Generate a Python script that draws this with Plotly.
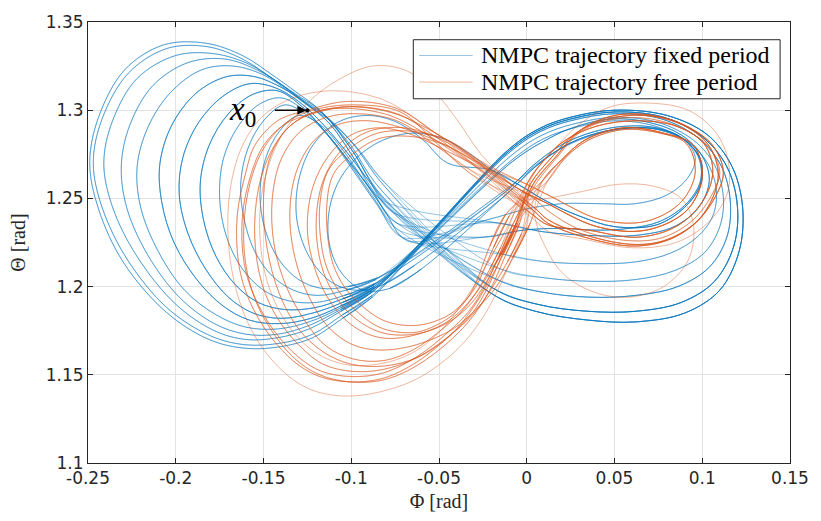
import plotly.graph_objects as go

# ---------------------------------------------------------------------------
# Trajectory lobes in the (Phi, Theta) plane, in rad.
# Blue = NMPC with fixed period, orange = NMPC with free period.
# Left lobes start on their lower right, run round the bottom, the left side
# and the top; right lobes start on their lower left, run round the bottom,
# the right side and the top.  The spline through consecutive lobes draws
# the crossing branches between them.
# ---------------------------------------------------------------------------

# --- fixed period: left lobes -------------------------------------------------
BL13_PHI = [-0.088, -0.105, -0.122, -0.140, -0.160, -0.181, -0.206, -0.230, -0.244, -0.249,
            -0.244, -0.229, -0.207, -0.183, -0.162, -0.145, -0.131, -0.119, -0.101, -0.084]
BL13_THETA = [1.194, 1.182, 1.171, 1.166, 1.165, 1.170, 1.186, 1.214, 1.244, 1.270,
              1.296, 1.323, 1.337, 1.338, 1.331, 1.320, 1.310, 1.301, 1.281, 1.256]
BL1_PHI = [-0.088, -0.105, -0.122, -0.140, -0.160, -0.180, -0.205, -0.228, -0.242, -0.247,
           -0.242, -0.227, -0.205, -0.182, -0.162, -0.145, -0.130, -0.118, -0.100, -0.083]
BL1_THETA = [1.195, 1.184, 1.173, 1.168, 1.167, 1.172, 1.188, 1.216, 1.245, 1.270,
             1.295, 1.321, 1.335, 1.336, 1.329, 1.318, 1.308, 1.300, 1.278, 1.252]
BL2_PHI = [-0.088, -0.106, -0.124, -0.142, -0.160, -0.178, -0.200, -0.222, -0.236, -0.241,
           -0.236, -0.222, -0.200, -0.178, -0.158, -0.142, -0.128, -0.116, -0.099, -0.082]
BL2_THETA = [1.197, 1.186, 1.176, 1.171, 1.170, 1.175, 1.190, 1.217, 1.245, 1.270,
             1.294, 1.318, 1.331, 1.332, 1.326, 1.316, 1.306, 1.298, 1.281, 1.258]
BL9_PHI = [-0.088, -0.106, -0.124, -0.142, -0.160, -0.178, -0.198, -0.216, -0.228, -0.231,
           -0.226, -0.213, -0.193, -0.172, -0.154, -0.139, -0.126, -0.114, -0.098, -0.082]
BL9_THETA = [1.197, 1.187, 1.178, 1.173, 1.173, 1.179, 1.194, 1.218, 1.245, 1.269,
             1.292, 1.314, 1.327, 1.329, 1.323, 1.314, 1.304, 1.296, 1.275, 1.250]
BL3_PHI = [-0.088, -0.106, -0.124, -0.142, -0.160, -0.177, -0.195, -0.210, -0.220, -0.222,
           -0.216, -0.203, -0.185, -0.167, -0.150, -0.136, -0.124, -0.112, -0.097, -0.081]
BL3_THETA = [1.198, 1.188, 1.180, 1.176, 1.177, 1.184, 1.198, 1.220, 1.245, 1.268,
             1.290, 1.310, 1.323, 1.325, 1.320, 1.311, 1.302, 1.294, 1.279, 1.259]
BL10_PHI = [-0.087, -0.106, -0.123, -0.141, -0.158, -0.173, -0.188, -0.201, -0.208,
            -0.209, -0.202, -0.188, -0.171, -0.155, -0.140, -0.126, -0.112, -0.098, -0.084]
BL10_THETA = [1.199, 1.189, 1.182, 1.179, 1.181, 1.189, 1.204, 1.225, 1.248,
              1.270, 1.292, 1.310, 1.319, 1.319, 1.313, 1.304, 1.292, 1.272, 1.250]
BL4_PHI = [-0.087, -0.105, -0.122, -0.140, -0.156, -0.170, -0.183, -0.193, -0.198,
           -0.196, -0.187, -0.173, -0.158, -0.144, -0.130, -0.117, -0.104, -0.090, -0.076]
BL4_THETA = [1.200, 1.191, 1.185, 1.182, 1.185, 1.194, 1.210, 1.230, 1.252,
             1.273, 1.293, 1.308, 1.315, 1.313, 1.305, 1.293, 1.278, 1.260, 1.242]
BL11_PHI = [-0.087, -0.105, -0.121, -0.138, -0.153, -0.166, -0.177, -0.184, -0.186,
            -0.181, -0.170, -0.156, -0.142, -0.128, -0.115, -0.102, -0.088, -0.074]
BL11_THETA = [1.201, 1.193, 1.188, 1.187, 1.191, 1.201, 1.217, 1.237, 1.259,
              1.280, 1.298, 1.309, 1.311, 1.302, 1.288, 1.272, 1.254, 1.236]
BL5_PHI = [-0.086, -0.104, -0.120, -0.136, -0.150, -0.162, -0.171, -0.175,
           -0.173, -0.165, -0.153, -0.140, -0.127, -0.114, -0.101, -0.087, -0.073]
BL5_THETA = [1.202, 1.195, 1.191, 1.192, 1.198, 1.210, 1.228, 1.250,
             1.272, 1.290, 1.303, 1.307, 1.300, 1.287, 1.270, 1.250, 1.232]
BL12_PHI = [-0.086, -0.103, -0.119, -0.133, -0.145, -0.155, -0.161, -0.163,
            -0.159, -0.150, -0.138, -0.125, -0.112, -0.099, -0.085, -0.071]
BL12_THETA = [1.204, 1.198, 1.195, 1.198, 1.206, 1.220, 1.238, 1.258,
              1.278, 1.294, 1.303, 1.297, 1.284, 1.266, 1.246, 1.228]
BL6_PHI = [-0.085, -0.102, -0.117, -0.130, -0.141, -0.149, -0.152,
           -0.149, -0.141, -0.130, -0.118, -0.106, -0.094, -0.081, -0.068]
BL6_THETA = [1.205, 1.200, 1.199, 1.204, 1.215, 1.232, 1.252,
             1.272, 1.288, 1.297, 1.292, 1.279, 1.262, 1.243, 1.226]
BL8_PHI = [-0.064, -0.082, -0.098, -0.112, -0.124, -0.131, -0.130, -0.122, -0.108, -0.092, -0.076, -0.060, -0.045]
BL8_THETA = [1.212, 1.201, 1.198, 1.203, 1.217, 1.238, 1.260, 1.280, 1.293, 1.297, 1.294, 1.284, 1.270]
BL7_PHI = [-0.060, -0.078, -0.093, -0.105, -0.112, -0.113, -0.108, -0.097, -0.082, -0.065, -0.048, -0.032]
BL7_THETA = [1.210, 1.199, 1.198, 1.207, 1.222, 1.240, 1.258, 1.273, 1.283, 1.287, 1.284, 1.275]

# --- fixed period: right lobes ------------------------------------------------
BR1_PHI = [-0.020, 0.005, 0.035, 0.062, 0.090, 0.110, 0.121, 0.123, 0.117, 0.103, 0.080, 0.050, 0.025, 0.008, -0.010]
BR1_THETA = [1.196, 1.186, 1.181, 1.180, 1.185, 1.198, 1.220, 1.245, 1.268, 1.286, 1.297, 1.300, 1.296, 1.290, 1.278]
BR2_PHI = [-0.019, 0.006, 0.035, 0.062, 0.088, 0.107, 0.118, 0.120, 0.114, 0.100, 0.078, 0.050, 0.025, 0.008, -0.010]
BR2_THETA = [1.199, 1.190, 1.186, 1.186, 1.191, 1.203, 1.223, 1.246, 1.268, 1.285, 1.296, 1.299, 1.295, 1.289, 1.277]
BR3_PHI = [-0.017, 0.008, 0.036, 0.062, 0.086, 0.104, 0.114, 0.116, 0.111, 0.098, 0.077, 0.050, 0.025, 0.008, -0.010]
BR3_THETA = [1.204, 1.197, 1.194, 1.195, 1.200, 1.211, 1.228, 1.248, 1.268, 1.284, 1.295, 1.298, 1.294, 1.288, 1.276]
BR4_PHI = [-0.015, 0.010, 0.037, 0.062, 0.084, 0.101, 0.110, 0.112, 0.107, 0.095, 0.075, 0.050, 0.026, 0.009, -0.008]
BR4_THETA = [1.210, 1.205, 1.203, 1.204, 1.209, 1.219, 1.234, 1.251, 1.269, 1.283, 1.293, 1.296, 1.292, 1.286, 1.275]
BR5_PHI = [-0.012, 0.012, 0.038, 0.062, 0.082, 0.097, 0.106, 0.108, 0.103, 0.092, 0.073, 0.050, 0.027, 0.010, -0.007]
BR5_THETA = [1.218, 1.214, 1.213, 1.214, 1.219, 1.228, 1.240, 1.255, 1.270, 1.282, 1.291, 1.294, 1.290, 1.284, 1.273]
BR9_PHI = [-0.016, 0.010, 0.036, 0.062, 0.084, 0.098, 0.104, 0.100, 0.088, 0.070, 0.048, 0.026, 0.009, -0.008]
BR9_THETA = [1.236, 1.231, 1.229, 1.229, 1.234, 1.245, 1.260, 1.274, 1.286, 1.293, 1.295, 1.290, 1.282, 1.271]
BR6_PHI = [-0.020, -0.005, 0.012, 0.030, 0.050, 0.074, 0.090, 0.099,
           0.099, 0.090, 0.075, 0.059, 0.040, 0.022, 0.005, -0.012]
BR6_THETA = [1.266, 1.258, 1.248, 1.240, 1.234, 1.235, 1.245, 1.258,
             1.272, 1.283, 1.289, 1.290, 1.287, 1.280, 1.268, 1.252]
BR6W_PHI = [-0.025, -0.002, 0.020, 0.040, 0.058, 0.076, 0.091, 0.099,
            0.098, 0.089, 0.074, 0.057, 0.039, 0.021, 0.004, -0.013]
BR6W_THETA = [1.228, 1.232, 1.233, 1.232, 1.233, 1.237, 1.247, 1.260,
              1.273, 1.284, 1.290, 1.291, 1.288, 1.281, 1.269, 1.253]
BR7_PHI = [-0.022, 0.000, 0.020, 0.042, 0.062, 0.080, 0.092, 0.096,
           0.090, 0.077, 0.060, 0.042, 0.025, 0.008, -0.008]
BR7_THETA = [1.238, 1.244, 1.247, 1.247, 1.247, 1.252, 1.262, 1.273,
             1.283, 1.289, 1.290, 1.287, 1.281, 1.271, 1.258]

# --- free period: left lobes --------------------------------------------------
OL1_PHI = [-0.006, -0.014, -0.022, -0.031, -0.044, -0.063, -0.082, -0.101, -0.118, -0.132, -0.147,
           -0.158, -0.164, -0.165, -0.160, -0.155, -0.142, -0.125, -0.102, -0.074, -0.052, -0.035]
OL1_THETA = [1.236, 1.218, 1.200, 1.185, 1.172, 1.157, 1.148, 1.146, 1.149, 1.157, 1.173,
             1.192, 1.212, 1.240, 1.265, 1.280, 1.294, 1.300, 1.305, 1.301, 1.287, 1.276]
OL1B_PHI = [-0.008, -0.016, -0.024, -0.033, -0.045, -0.063, -0.082, -0.100, -0.117, -0.130, -0.144,
            -0.155, -0.161, -0.162, -0.157, -0.150, -0.138, -0.122, -0.101, -0.074, -0.052, -0.034]
OL1B_THETA = [1.235, 1.217, 1.200, 1.186, 1.174, 1.160, 1.151, 1.149, 1.152, 1.160, 1.175,
              1.194, 1.213, 1.240, 1.264, 1.280, 1.292, 1.298, 1.302, 1.298, 1.285, 1.272]
OL9_PHI = [-0.004, -0.012, -0.020, -0.030, -0.043, -0.063, -0.082, -0.101, -0.118, -0.132, -0.146,
           -0.156, -0.161, -0.160, -0.154, -0.146, -0.134, -0.118, -0.097, -0.072, -0.050, -0.032]
OL9_THETA = [1.236, 1.218, 1.200, 1.184, 1.170, 1.155, 1.147, 1.146, 1.150, 1.159, 1.176,
             1.196, 1.220, 1.247, 1.270, 1.284, 1.295, 1.301, 1.303, 1.299, 1.280, 1.264]
OL11_PHI = [-0.005, -0.013, -0.022, -0.032, -0.044, -0.062, -0.081, -0.100, -0.116, -0.130,
            -0.141, -0.148, -0.150, -0.146, -0.136, -0.121, -0.102, -0.078, -0.055, -0.035]
OL11_THETA = [1.236, 1.219, 1.202, 1.186, 1.172, 1.160, 1.155, 1.156, 1.163, 1.176,
              1.196, 1.222, 1.250, 1.274, 1.290, 1.299, 1.301, 1.297, 1.285, 1.272]
OL2_PHI = [-0.010, -0.019, -0.029, -0.037, -0.046, -0.063, -0.082, -0.100, -0.108,
           -0.112, -0.114, -0.110, -0.098, -0.084, -0.065, -0.046, -0.027]
OL2_THETA = [1.240, 1.222, 1.200, 1.190, 1.183, 1.178, 1.181, 1.195, 1.207,
             1.219, 1.245, 1.264, 1.276, 1.284, 1.285, 1.280, 1.269]
OL2B_PHI = [-0.012, -0.021, -0.031, -0.039, -0.048, -0.064, -0.084, -0.102, -0.111,
            -0.116, -0.118, -0.113, -0.100, -0.085, -0.065, -0.045, -0.026]
OL2B_THETA = [1.241, 1.223, 1.198, 1.187, 1.180, 1.174, 1.177, 1.191, 1.204,
              1.218, 1.245, 1.266, 1.279, 1.287, 1.288, 1.283, 1.271]
OL10_PHI = [-0.006, -0.015, -0.024, -0.034, -0.046, -0.064, -0.083, -0.099, -0.110,
            -0.117, -0.120, -0.116, -0.105, -0.090, -0.070, -0.050, -0.030]
OL10_THETA = [1.236, 1.218, 1.201, 1.188, 1.179, 1.173, 1.174, 1.183, 1.196,
              1.212, 1.236, 1.260, 1.278, 1.288, 1.290, 1.284, 1.272]
OL3_PHI = [-0.003, -0.011, -0.020, -0.030, -0.043, -0.062, -0.082, -0.100, -0.116, -0.129, -0.142,
           -0.151, -0.155, -0.153, -0.146, -0.135, -0.120, -0.100, -0.075, -0.052, -0.033]
OL3_THETA = [1.230, 1.214, 1.199, 1.185, 1.173, 1.160, 1.153, 1.152, 1.156, 1.166, 1.182,
             1.202, 1.228, 1.255, 1.276, 1.291, 1.299, 1.302, 1.298, 1.287, 1.275]
OL4_PHI = [-0.015, -0.021, -0.028, -0.037, -0.048, -0.065, -0.082, -0.099, -0.114, -0.126,
           -0.137, -0.144, -0.145, -0.140, -0.129, -0.114, -0.096, -0.074, -0.052, -0.032]
OL4_THETA = [1.222, 1.210, 1.198, 1.186, 1.176, 1.164, 1.158, 1.159, 1.166, 1.180,
             1.200, 1.224, 1.250, 1.272, 1.288, 1.296, 1.298, 1.294, 1.280, 1.266]
OL5_PHI = [0.002, -0.008, -0.018, -0.029, -0.042, -0.063, -0.083, -0.099, -0.113, -0.124,
           -0.132, -0.135, -0.131, -0.121, -0.107, -0.090, -0.071, -0.050, -0.031]
OL5_THETA = [1.236, 1.216, 1.199, 1.187, 1.176, 1.167, 1.164, 1.167, 1.177, 1.194,
             1.216, 1.242, 1.266, 1.283, 1.292, 1.294, 1.290, 1.282, 1.272]
OL6_PHI = [-0.008, -0.018, -0.027, -0.036, -0.047, -0.066, -0.083, -0.098, -0.111,
           -0.120, -0.125, -0.122, -0.113, -0.100, -0.085, -0.068, -0.048, -0.029]
OL6_THETA = [1.230, 1.213, 1.199, 1.188, 1.179, 1.172, 1.171, 1.177, 1.190,
             1.208, 1.232, 1.256, 1.274, 1.286, 1.290, 1.287, 1.278, 1.268]
OL7_PHI = [0.000, -0.008, -0.016, -0.026, -0.040, -0.062, -0.085, -0.105, -0.124, -0.140, -0.155,
           -0.165, -0.170, -0.169, -0.162, -0.150, -0.133, -0.110, -0.082, -0.056, -0.036]
OL7_THETA = [1.234, 1.217, 1.199, 1.181, 1.164, 1.148, 1.140, 1.138, 1.142, 1.153, 1.172,
             1.196, 1.225, 1.255, 1.280, 1.297, 1.307, 1.311, 1.306, 1.290, 1.274]
OL8_PHI = [-0.013, -0.022, -0.031, -0.040, -0.049, -0.066, -0.085, -0.104, -0.121, -0.136, -0.147,
           -0.152, -0.150, -0.140, -0.124, -0.106, -0.088, -0.070, -0.054, -0.040, -0.026]
OL8_THETA = [1.230, 1.214, 1.199, 1.186, 1.175, 1.162, 1.156, 1.156, 1.163, 1.178, 1.200,
             1.228, 1.258, 1.285, 1.305, 1.318, 1.325, 1.323, 1.312, 1.295, 1.275]

# --- free period: right lobes -------------------------------------------------
OR1_PHI = [0.004, 0.012, 0.031, 0.059, 0.078, 0.096, 0.108, 0.112, 0.106, 0.091, 0.072, 0.050, 0.031, 0.016, 0.003]
OR1_THETA = [1.245, 1.238, 1.230, 1.224, 1.226, 1.236, 1.252, 1.265, 1.280, 1.291, 1.297, 1.297, 1.289, 1.273, 1.257]
OR1B_PHI = [0.004, 0.012, 0.031, 0.059, 0.078, 0.095, 0.106, 0.110, 0.104, 0.090, 0.071, 0.050, 0.031, 0.017, 0.005]
OR1B_THETA = [1.250, 1.243, 1.232, 1.226, 1.228, 1.238, 1.253, 1.265, 1.279, 1.289, 1.295, 1.295, 1.288, 1.273, 1.258]
OR7_PHI = [0.004, 0.012, 0.033, 0.061, 0.082, 0.098, 0.107, 0.109, 0.103, 0.088, 0.067, 0.046, 0.028, 0.014, 0.002]
OR7_THETA = [1.243, 1.236, 1.228, 1.223, 1.227, 1.238, 1.253, 1.266, 1.281, 1.292, 1.297, 1.295, 1.287, 1.273, 1.258]
OR2_PHI = [-0.004, 0.010, 0.040, 0.068, 0.091, 0.100, 0.095, 0.078, 0.055, 0.033, 0.020, 0.009]
OR2_THETA = [1.255, 1.248, 1.234, 1.232, 1.243, 1.262, 1.280, 1.287, 1.290, 1.283, 1.272, 1.260]
OR3_PHI = [0.003, 0.012, 0.035, 0.063, 0.085, 0.100, 0.106, 0.101, 0.085, 0.062, 0.040, 0.022, 0.011, 0.000]
OR3_THETA = [1.241, 1.235, 1.232, 1.228, 1.234, 1.248, 1.265, 1.281, 1.291, 1.294, 1.291, 1.283, 1.273, 1.258]
OR4_PHI = [0.004, 0.013, 0.032, 0.060, 0.085, 0.103, 0.114, 0.115, 0.108, 0.092, 0.070, 0.048, 0.030, 0.015, 0.002]
OR4_THETA = [1.238, 1.231, 1.227, 1.222, 1.225, 1.236, 1.252, 1.270, 1.287, 1.300, 1.304, 1.302, 1.292, 1.277, 1.260]
OR5_PHI = [0.002, 0.008, 0.020, 0.038, 0.058, 0.078, 0.092, 0.095, 0.088, 0.072, 0.052, 0.032, 0.012, -0.002]
OR5_THETA = [1.245, 1.228, 1.208, 1.197, 1.194, 1.200, 1.215, 1.235, 1.250, 1.257, 1.258, 1.254, 1.250, 1.248]
OR6_PHI = [0.000, 0.014, 0.042, 0.068, 0.088, 0.096, 0.091, 0.076, 0.055, 0.035, 0.022, 0.012]
OR6_THETA = [1.258, 1.251, 1.238, 1.237, 1.248, 1.265, 1.281, 1.287, 1.289, 1.283, 1.273, 1.260]

# Successive periods: (left lobe, right lobe) pairs
BLUE_LOOPS = [("BL9", "BR3"), ("BL3", "BR2"), ("BL3", "BR4"), ("BL10", "BR3"), ("BL4", "BR5"),
              ("BL11", "BR4"), ("BL5", "BR3"), ("BL12", "BR5"), ("BL6", "BR6W"), ("BL5", "BR6W"),
              ("BL6", "BR7"), ("BL12", "BR7"), ("BL8", "BR6"), ("BL7", "BR6"), ("BL7", "BR6"),
              ("BL8", "BR6"), ("BL10", "BR1"), ("BL9", "BR1"), ("BL11", "BR6W"), ("BL4", "BR2"),
              ("BL4", "BR9"), ("BL11", "BR9"), ("BL10", "BR9"),
              ("BL1", "BR1"), ("BL2", "BR2"), ("BL1", "BR2"), ("BL2", "BR1"),
              ("BL13", "BR1"), ("BL13", "BR2")]
ORANGE_LOOPS = [("OL7", "OR4"), ("OL8", "OR5"), ("OL3", "OR1"), ("OL3", "OR2"), ("OL4", "OR3"),
                ("OL4", "OR1B"), ("OL5", "OR2"), ("OL5", "OR6"), ("OL6", "OR3"), ("OL6", "OR7"),
                ("OL9", "OR1"), ("OL9", "OR3"), ("OL11", "OR7"), ("OL11", "OR6"), ("OL10", "OR2"),
                ("OL10", "OR7"),
                ("OL2", "OR2"), ("OL2B", "OR6"), ("OL2", "OR3"), ("OL2B", "OR2"),
                ("OL1", "OR1"), ("OL1B", "OR1B"), ("OL1", "OR7"), ("OL1B", "OR1")]

# Initial state x0
X0_PHI = -0.125
X0_THETA = 1.300

X_TICKS = [-0.25, -0.2, -0.15, -0.1, -0.05, 0, 0.05, 0.1, 0.15]
X_TICK_TEXT = ["-0.25", "-0.2", "-0.15", "-0.1", "-0.05", "0", "0.05", "0.1", "0.15"]
Y_TICKS = [1.1, 1.15, 1.2, 1.25, 1.3, 1.35]
Y_TICK_TEXT = ["1.1", "1.15", "1.2", "1.25", "1.3", "1.35"]

SERIES_NAMES = ["NMPC trajectory fixed period", "NMPC trajectory free period"]

# ---------------------------------------------------------------------------
LOBES = {
    "BL1": (BL1_PHI, BL1_THETA), "BL2": (BL2_PHI, BL2_THETA), "BL3": (BL3_PHI, BL3_THETA),
    "BL4": (BL4_PHI, BL4_THETA), "BL5": (BL5_PHI, BL5_THETA), "BL6": (BL6_PHI, BL6_THETA),
    "BL7": (BL7_PHI, BL7_THETA), "BL8": (BL8_PHI, BL8_THETA), "BL9": (BL9_PHI, BL9_THETA),
    "BL10": (BL10_PHI, BL10_THETA), "BL11": (BL11_PHI, BL11_THETA), "BL12": (BL12_PHI, BL12_THETA),
    "BL13": (BL13_PHI, BL13_THETA),
    "BR1": (BR1_PHI, BR1_THETA), "BR2": (BR2_PHI, BR2_THETA), "BR3": (BR3_PHI, BR3_THETA),
    "BR4": (BR4_PHI, BR4_THETA), "BR5": (BR5_PHI, BR5_THETA), "BR6": (BR6_PHI, BR6_THETA),
    "BR6W": (BR6W_PHI, BR6W_THETA), "BR7": (BR7_PHI, BR7_THETA), "BR9": (BR9_PHI, BR9_THETA),
    "OL1": (OL1_PHI, OL1_THETA), "OL1B": (OL1B_PHI, OL1B_THETA), "OL2": (OL2_PHI, OL2_THETA),
    "OL2B": (OL2B_PHI, OL2B_THETA), "OL3": (OL3_PHI, OL3_THETA), "OL4": (OL4_PHI, OL4_THETA),
    "OL5": (OL5_PHI, OL5_THETA), "OL6": (OL6_PHI, OL6_THETA), "OL7": (OL7_PHI, OL7_THETA),
    "OL8": (OL8_PHI, OL8_THETA), "OL9": (OL9_PHI, OL9_THETA), "OL10": (OL10_PHI, OL10_THETA),
    "OL11": (OL11_PHI, OL11_THETA),
    "OR1": (OR1_PHI, OR1_THETA), "OR1B": (OR1B_PHI, OR1B_THETA), "OR2": (OR2_PHI, OR2_THETA),
    "OR3": (OR3_PHI, OR3_THETA), "OR4": (OR4_PHI, OR4_THETA), "OR5": (OR5_PHI, OR5_THETA),
    "OR6": (OR6_PHI, OR6_THETA), "OR7": (OR7_PHI, OR7_THETA),
}

BLUE = "rgba(0,114,189,0.42)"
ORANGE = "rgba(217,83,25,0.42)"
AXIS_GREY = "#262626"
SERIF = "Liberation Serif"

fig = go.Figure()


def add_loops(loops, color):
    for left, right in loops:
        lx, ly = LOBES[left]
        rx, ry = LOBES[right]
        fig.add_trace(go.Scatter(
            x=lx + rx + lx[:2], y=ly + ry + ly[:2], mode="lines",
            line=dict(color=color, width=1, shape="spline", smoothing=1.0),
            showlegend=False, hoverinfo="skip"))


add_loops(BLUE_LOOPS, BLUE)
add_loops(ORANGE_LOOPS, ORANGE)

# marker at the initial state
fig.add_trace(go.Scatter(x=[X0_PHI], y=[X0_THETA], mode="markers",
                         marker=dict(color="black", size=4), showlegend=False, hoverinfo="skip"))

fig.add_annotation(x=X0_PHI, y=X0_THETA, xref="x", yref="y", text="", showarrow=True,
                   ax=-34, ay=0, arrowhead=2, arrowsize=1.2, arrowwidth=1.5,
                   arrowcolor="black", standoff=1)
fig.add_annotation(x=X0_PHI, y=X0_THETA, xref="x", yref="y", showarrow=False,
                   text="<i>x</i><sub>0</sub>", xshift=-65, yshift=-1,
                   font=dict(family=SERIF, size=33, color="black"))

# legend box drawn in paper coordinates
LEG_X0, LEG_X1, LEG_Y0, LEG_Y1 = 0.4634, 0.9859, 0.8259, 0.9598
fig.add_shape(type="rect", xref="paper", yref="paper", x0=LEG_X0, x1=LEG_X1, y0=LEG_Y0, y1=LEG_Y1,
              line=dict(color=AXIS_GREY, width=1), fillcolor="white", layer="above")
for name, color, ypos in zip(SERIES_NAMES, [BLUE, ORANGE], [0.9241, 0.8638]):
    fig.add_shape(type="line", xref="paper", yref="paper", x0=0.4718, x1=0.5479, y0=ypos, y1=ypos,
                  line=dict(color=color, width=1), layer="above")
    fig.add_annotation(xref="paper", yref="paper", x=0.5563, y=ypos, xanchor="left", yanchor="middle",
                       text=name, showarrow=False, font=dict(family=SERIF, size=24, color="black"))

axis_common = dict(showgrid=True, gridcolor="#e3e3e3", gridwidth=1, zeroline=False,
                   showline=True, linecolor=AXIS_GREY, linewidth=1, mirror="ticks",
                   ticks="inside", ticklen=5, tickcolor=AXIS_GREY,
                   tickfont=dict(family="DejaVu Sans", size=17, color=AXIS_GREY))

fig.update_xaxes(range=[-0.25, 0.15], tickvals=X_TICKS, ticktext=X_TICK_TEXT,
                 title=dict(text="Φ [rad]", standoff=6,
                            font=dict(family=SERIF, size=20, color=AXIS_GREY)),
                 **axis_common)
fig.update_yaxes(range=[1.1, 1.35], tickvals=Y_TICKS, ticktext=Y_TICK_TEXT,
                 title=dict(text="Θ [rad]", standoff=14,
                            font=dict(family=SERIF, size=20, color=AXIS_GREY)),
                 **axis_common)

fig.update_layout(
    width=821, height=521,
    margin=dict(l=88, r=23, t=15, b=58),
    paper_bgcolor="white", plot_bgcolor="white",
    showlegend=False,
)

fig.write_html("out.html")
